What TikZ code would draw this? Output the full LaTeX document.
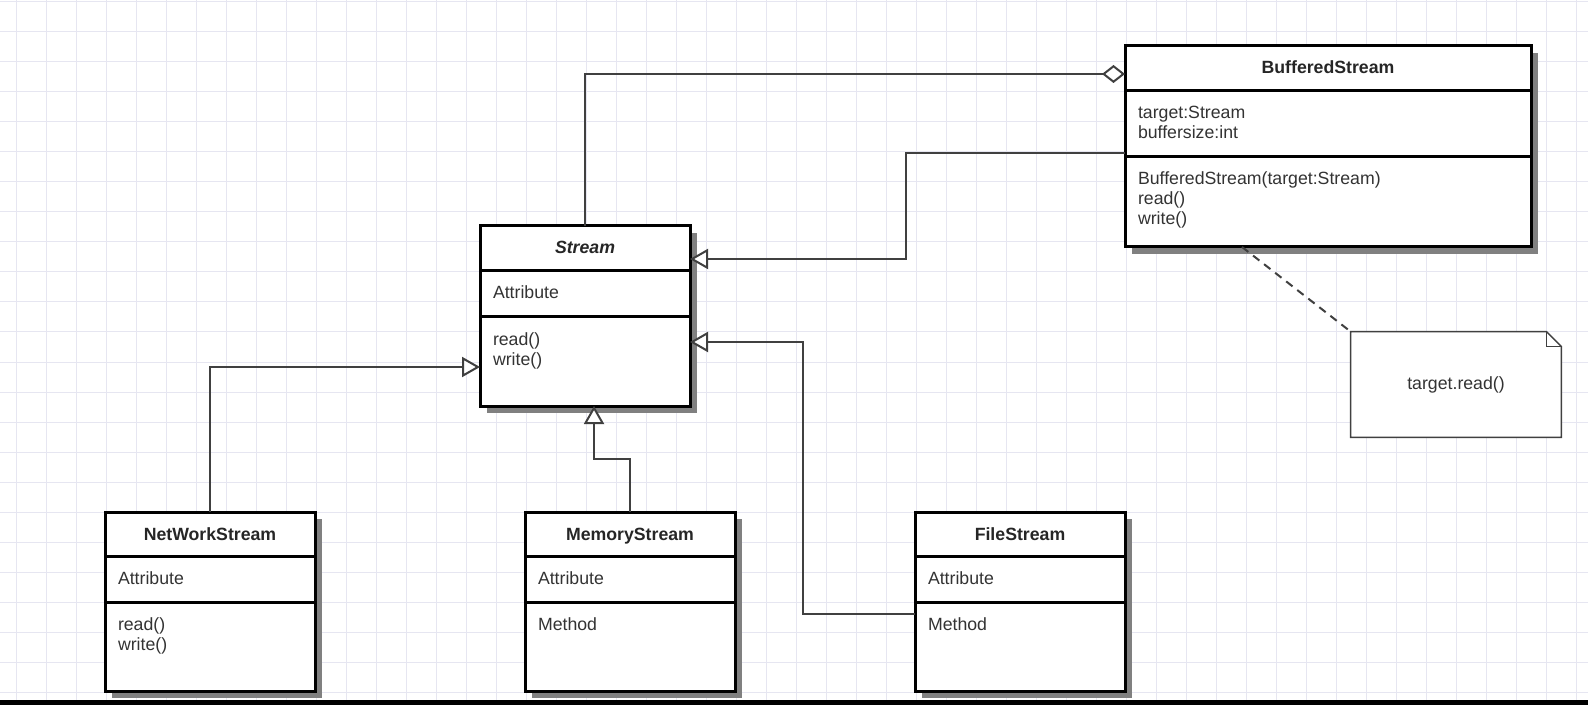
\documentclass[tikz,border=0pt]{standalone}
\usepackage{fontspec}
\setmainfont{Liberation Sans}
\usepackage{tikz}
\usetikzlibrary{arrows.meta,positioning,shadows}
\definecolor{gridlav}{RGB}{230,230,241}
\definecolor{linegray}{RGB}{64,64,64}
\definecolor{textgray}{RGB}{51,51,51}
\definecolor{shadowgray}{RGB}{128,128,128}

\begin{document}
\begin{tikzpicture}[
  x=0.5pt, y=-0.5pt,
  every node/.style={font=\fontsize{8.85}{10}\selectfont},
  umlpart/.style={draw=black, line width=1.5pt, fill=white, outer sep=0pt,
                  inner xsep=6.5pt, inner ysep=0pt, text width=92pt,
                  text height=14pt, align=left, text=textgray,
                  drop shadow={shadow xshift=3.5pt, shadow yshift=-3.5pt,
                               fill=shadowgray, opacity=1}},
  umlhead/.style={umlpart, align=center, text=black!85, text depth=8.5pt,
                  font=\fontsize{8.85}{10}\selectfont\bfseries},
  gridline/.style={draw=gridlav, line width=0.5pt},
  conn/.style={draw=linegray, line width=1pt},
  gen/.style={conn, -{Triangle[fill=white, length=9pt, width=10pt]}},
  agg/.style={conn, -{Diamond[fill=white, length=11.5pt, width=9pt]}},
  noteline/.style={conn, dash pattern=on 4pt off 3pt},
  notebox/.style={minimum width=105pt, minimum height=52.5pt, inner sep=0pt,
                  text=textgray}
]

%% page, grid and the dark strip at the bottom
\useasboundingbox (0,0) rectangle (1588,705);
\fill[white] (0,0) rectangle (1588,705);
\foreach \gx in {16,46,...,1586} \draw[gridline] (\gx,0) -- (\gx,705);
\foreach \gy in {2,32,...,692} \draw[gridline] (0,\gy) -- (1588,\gy);
\fill[black] (0,700) rectangle (1588,705);

%% Stream (abstract base)
\node[umlhead, anchor=north west,
      font=\fontsize{8.85}{10}\selectfont\bfseries\itshape] (strT) at (480,226) {Stream};
\node[umlpart, below=0pt of strT, text depth=9pt]    (strA) {Attribute};
\node[umlpart, below=0pt of strA, text depth=30.5pt] (strM) {read()\\write()};

%% BufferedStream (decorator)
\node[umlhead, anchor=north west, text width=190pt] (bufT) at (1125,46) {BufferedStream};
\node[umlpart, below=0pt of bufT, text width=190pt, text depth=19pt] (bufA)
  {target:Stream\\buffersize:int};
\node[umlpart, below=0pt of bufA, text width=190pt, text depth=31pt] (bufM)
  {BufferedStream(target:Stream)\\read()\\write()};

%% concrete streams
\node[umlhead, anchor=north west, text depth=8pt] (netT) at (105,512) {NetWorkStream};
\node[umlpart, below=0pt of netT, text depth=9pt]    (netA) {Attribute};
\node[umlpart, below=0pt of netA, text depth=30.5pt] (netM) {read()\\write()};

\node[umlhead, anchor=north west, text depth=8pt] (memT) at (525,512) {MemoryStream};
\node[umlpart, below=0pt of memT, text depth=9pt]    (memA) {Attribute};
\node[umlpart, below=0pt of memA, text depth=30.5pt] (memM) {Method};

\node[umlhead, anchor=north west, text depth=8pt] (fileT) at (915,512) {FileStream};
\node[umlpart, below=0pt of fileT, text depth=9pt]    (fileA) {Attribute};
\node[umlpart, below=0pt of fileA, text depth=30.5pt] (fileM) {Method};

%% note with folded corner
\node[notebox] (note) at (1456,384.5) {};
\draw[draw=linegray, line width=0.75pt, fill=white]
  (note.north west) -- ([xshift=-7.5pt]note.north east)
  -- ([yshift=-7.5pt]note.north east) -- (note.south east)
  -- (note.south west) -- cycle;
\draw[draw=linegray, line width=0.75pt]
  ([xshift=-7.5pt]note.north east) |- ([yshift=-7.5pt]note.north east);
\node[text=textgray] (notetext) at (note) {target.read()};

%% connectors
\draw[agg] (strT.north) |- ([yshift=-2.75pt]bufT.west);
\draw[gen] ([yshift=2pt]bufA.south west) -- ++(-219,0) |- ([yshift=-5.25pt]strT.east);
\draw[gen] (netT.north) |- ([yshift=-2.75pt]strM.west);
\draw[gen] (memT.north) -- ++(0,-53) -| ([xshift=4.5pt]strM.south);
\draw[gen] ([yshift=-6pt]fileM.north west) -- ++(-112,0) |- ([yshift=9.75pt]strM.east);
\draw[noteline] ([xshift=58.5pt]bufM.south west) -- (note.north west);

\end{tikzpicture}
\end{document}
